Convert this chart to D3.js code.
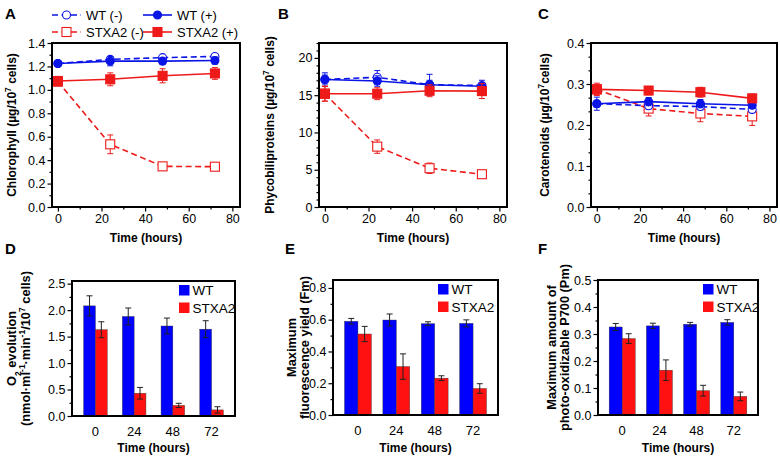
<!DOCTYPE html>
<html>
<head>
<meta charset="utf-8">
<script src="https://cdn.jsdelivr.net/npm/d3@7"></script>
<style>
  body { margin: 0; background: #fff; }
  svg { display: block; font-family: "Liberation Sans", Arial, sans-serif; }
</style>
</head>
<body>
<svg id="chart" width="780" height="461"></svg>
<script>
// ---------------- DATA ----------------
const timeHours = [0, 24, 48, 72];
const xTicksLine = [0, 20, 40, 60, 80];
const seriesNames = ["WT (-)", "WT (+)", "STXA2 (-)", "STXA2 (+)"];

// Panel A: Chlorophyll (µg/10^7 cells)
const chl_WT_minus = [1.225, 1.26, 1.275, 1.285];
const chl_WT_minus_err = [0.015, 0.02, 0.015, 0.015];
const chl_WT_plus = [1.225, 1.245, 1.245, 1.25];
const chl_WT_plus_err = [0.02, 0.04, 0.03, 0.03];
const chl_STXA2_minus = [1.07, 0.535, 0.347, 0.344];
const chl_STXA2_minus_err = [0.03, 0.08, 0.03, 0.03];
const chl_STXA2_plus = [1.075, 1.09, 1.12, 1.14];
const chl_STXA2_plus_err = [0.04, 0.055, 0.06, 0.05];

// Panel B: Phycobiliproteins (µg/10^7 cells)
const pbp_WT_minus = [17.1, 17.4, 16.4, 16.3];
const pbp_WT_minus_err = [0.9, 0.9, 1.4, 0.7];
const pbp_WT_plus = [17.1, 16.9, 16.4, 16.2];
const pbp_WT_plus_err = [0.6, 0.7, 0.6, 0.5];
const pbp_STXA2_minus = [15.2, 8.1, 5.2, 4.4];
const pbp_STXA2_minus_err = [1.0, 0.9, 0.7, 0.5];
const pbp_STXA2_plus = [15.2, 15.2, 15.6, 15.55];
const pbp_STXA2_plus_err = [1.0, 0.8, 0.8, 1.0];

// Panel C: Carotenoids (µg/10^7 cells)
const car_WT_minus = [0.252, 0.247, 0.245, 0.238];
const car_WT_minus_err = [0.008, 0.008, 0.008, 0.008];
const car_WT_plus = [0.252, 0.257, 0.252, 0.248];
const car_WT_plus_err = [0.016, 0.01, 0.01, 0.006];
const car_STXA2_minus = [0.287, 0.24, 0.228, 0.221];
const car_STXA2_minus_err = [0.012, 0.018, 0.02, 0.022];
const car_STXA2_plus = [0.287, 0.284, 0.28, 0.265];
const car_STXA2_plus_err = [0.015, 0.01, 0.012, 0.01];

// Bar panels
const barCategories = ["0", "24", "48", "72"];
const barSeries = ["WT", "STXA2"];
// Panel D: O2 evolution
const o2_WT = [2.08, 1.88, 1.70, 1.64];
const o2_WT_err = [0.19, 0.16, 0.15, 0.16];
const o2_STXA2 = [1.63, 0.43, 0.20, 0.115];
const o2_STXA2_err = [0.15, 0.11, 0.04, 0.06];
// Panel E: Maximum fluorescence yield (Fm)
const fm_WT = [0.59, 0.598, 0.575, 0.577];
const fm_WT_err = [0.018, 0.038, 0.012, 0.022];
const fm_STXA2 = [0.51, 0.305, 0.232, 0.167];
const fm_STXA2_err = [0.048, 0.08, 0.015, 0.03];
// Panel F: Maximum amount of photo-oxidizable P700 (Pm)
const pm_WT = [0.326, 0.33, 0.336, 0.343];
const pm_WT_err = [0.013, 0.01, 0.007, 0.01];
const pm_STXA2 = [0.283, 0.166, 0.09, 0.069];
const pm_STXA2_err = [0.018, 0.038, 0.02, 0.016];

// ---------------- STYLE ----------------
const BLUE = "#0a14e6";
const RED = "#ee1a1a";
const BAR_BLUE = "#0000ff";
const BAR_RED = "#ff1111";
const FONT = '"Liberation Sans", Arial, sans-serif';

const svg = d3.select("#chart");

function styleAxis(g) {
  g.selectAll(".domain").remove();
  g.selectAll("text").attr("font-size", 12.5).attr("font-family", FONT).attr("fill", "#000");
  g.selectAll("line").attr("stroke", "#000").attr("stroke-width", 1.2);
}

function frame(box) {
  svg.append("rect")
    .attr("x", box.x0).attr("y", box.y0)
    .attr("width", box.x1 - box.x0).attr("height", box.y1 - box.y0)
    .attr("fill", "none").attr("stroke", "#000").attr("stroke-width", 2);
}

function panelLetter(letter, x, y) {
  svg.append("text").attr("x", x).attr("y", y).text(letter)
    .attr("font-size", 15).attr("font-weight", "bold").attr("font-family", FONT);
}

function yAxis(box, y, ticks, minor, fmt) {
  const gMinor = svg.append("g").attr("transform", `translate(${box.x0},0)`)
    .call(d3.axisLeft(y).tickValues(minor).tickSize(2.5).tickFormat(""));
  styleAxis(gMinor);
  const g = svg.append("g").attr("transform", `translate(${box.x0},0)`)
    .call(d3.axisLeft(y).tickValues(ticks).tickSize(4.5).tickPadding(2).tickFormat(fmt));
  styleAxis(g);
}

function rotLabel(x, cy, parts, size) {
  const t = svg.append("text")
    .attr("transform", `translate(${x},${cy}) rotate(-90)`)
    .attr("text-anchor", "middle")
    .attr("font-size", size || 12).attr("font-weight", "bold").attr("font-family", FONT);
  parts.forEach(p => {
    const ts = t.append("tspan").text(p.t);
    if (p.sup) ts.attr("font-size", 8.5).attr("baseline-shift", "super");
    if (p.sub) ts.attr("font-size", 8.5).attr("baseline-shift", "sub");
  });
  return t;
}

function xTitle(box, y) {
  svg.append("text").attr("x", (box.x0 + box.x1) / 2).attr("y", y)
    .attr("text-anchor", "middle").attr("font-size", 12).attr("font-weight", "bold")
    .attr("font-family", FONT).text("Time (hours)");
}

// ------------ LINE PANELS ------------
function linePanel(cfg) {
  const box = cfg.box;
  const x = d3.scaleLinear().domain([-2.7, 83.5]).range([box.x0, box.x1]);
  const y = d3.scaleLinear().domain(cfg.yDomain).range([box.y1, box.y0]);

  const gxm = svg.append("g").attr("transform", `translate(0,${box.y1})`)
    .call(d3.axisBottom(x).tickValues([10, 30, 50, 70]).tickSize(2.5).tickFormat(""));
  styleAxis(gxm);
  const gx = svg.append("g").attr("transform", `translate(0,${box.y1})`)
    .call(d3.axisBottom(x).tickValues(xTicksLine).tickSize(4.5).tickPadding(3).tickFormat(d3.format("d")));
  styleAxis(gx);
  yAxis(box, y, cfg.yTicks, cfg.yMinor, cfg.fmt);

  const series = [
    { v: cfg.data[0], e: cfg.err[0], color: BLUE, dash: "6,3.5", shape: "circle", open: true },
    { v: cfg.data[1], e: cfg.err[1], color: BLUE, dash: null, shape: "circle", open: false },
    { v: cfg.data[2], e: cfg.err[2], color: RED, dash: "6,3.5", shape: "square", open: true },
    { v: cfg.data[3], e: cfg.err[3], color: RED, dash: null, shape: "square", open: false },
  ];
  const order = cfg.order || [0, 1, 2, 3];
  order.forEach(i => {
    const s = series[i];
    const pts = timeHours.map((t, k) => ({ t, v: s.v[k], e: s.e[k] }));
    const g = svg.append("g");
    pts.forEach(p => {
      const cx = x(p.t);
      g.append("line").attr("x1", cx).attr("x2", cx).attr("y1", y(p.v - p.e)).attr("y2", y(p.v + p.e))
        .attr("stroke", s.color).attr("stroke-width", 1);
      [p.v - p.e, p.v + p.e].forEach(val => {
        g.append("line").attr("x1", cx - 3).attr("x2", cx + 3).attr("y1", y(val)).attr("y2", y(val))
          .attr("stroke", s.color).attr("stroke-width", 1);
      });
    });
    g.append("path").datum(pts)
      .attr("d", d3.line().x(p => x(p.t)).y(p => y(p.v)))
      .attr("fill", "none").attr("stroke", s.color).attr("stroke-width", 1.6)
      .attr("stroke-dasharray", s.dash);
    pts.forEach(p => drawMarker(g, s, x(p.t), y(p.v)));
  });

  rotLabel(cfg.yLabelX, (box.y0 + box.y1) / 2, cfg.yLabel, 12);
  xTitle(box, 242);
  frame(box);
}

function drawMarker(g, s, cx, cy) {
  if (s.shape === "circle") {
    g.append("circle").attr("cx", cx).attr("cy", cy).attr("r", 4)
      .attr("fill", s.open ? "#fff" : s.color).attr("stroke", s.color).attr("stroke-width", 1.1);
  } else {
    g.append("rect").attr("x", cx - 4.5).attr("y", cy - 4.5).attr("width", 9).attr("height", 9)
      .attr("fill", s.open ? "#fff" : s.color).attr("stroke", s.color).attr("stroke-width", 1.1);
  }
}

function lineLegend() {
  const items = [
    { name: seriesNames[0], color: BLUE, dash: "6,3.5", shape: "circle", open: true, x: 52, y: 15 },
    { name: seriesNames[1], color: BLUE, dash: null, shape: "circle", open: false, x: 143, y: 15 },
    { name: seriesNames[2], color: RED, dash: "6,3.5", shape: "square", open: true, x: 52, y: 32 },
    { name: seriesNames[3], color: RED, dash: null, shape: "square", open: false, x: 143, y: 32 },
  ];
  items.forEach(it => {
    const g = svg.append("g");
    g.append("line").attr("x1", it.x).attr("x2", it.x + 29).attr("y1", it.y).attr("y2", it.y)
      .attr("stroke", it.color).attr("stroke-width", 1.6).attr("stroke-dasharray", it.dash);
    drawMarker(g, it, it.x + 14.5, it.y);
    g.append("text").attr("x", it.x + 34).attr("y", it.y + 4.5).text(it.name)
      .attr("font-size", 13).attr("font-family", FONT);
  });
}

// ------------ BAR PANELS ------------
function barPanel(cfg) {
  const box = cfg.box;
  const x0 = d3.scaleBand().domain(barCategories).range([box.x0, box.x1])
    .paddingInner(cfg.padIn).paddingOuter(cfg.padOut);
  const x1 = d3.scaleBand().domain(barSeries).range([0, x0.bandwidth()]);
  const y = d3.scaleLinear().domain(cfg.yDomain).range([box.y1, box.y0]);

  yAxis(box, y, cfg.yTicks, cfg.yMinor, cfg.fmt);
  const gx = svg.append("g").attr("transform", `translate(0,${box.y1})`)
    .call(d3.axisBottom(x0).tickSize(0).tickPadding(11));
  styleAxis(gx);
  gx.selectAll("text").attr("font-size", 13);

  const colors = [BAR_BLUE, BAR_RED];
  barSeries.forEach((sname, si) => {
    const vals = cfg.data[si];
    barCategories.forEach((c, k) => {
      const bx = x0(c) + x1(sname);
      svg.append("rect").attr("x", bx).attr("y", y(vals[k]))
        .attr("width", x1.bandwidth()).attr("height", y(0) - y(vals[k]))
        .attr("fill", colors[si]).attr("stroke", "#333").attr("stroke-width", 0.4);
    });
  });
  barSeries.forEach((sname, si) => {
    const vals = cfg.data[si], errs = cfg.err[si];
    barCategories.forEach((c, k) => {
      const cx = x0(c) + x1(sname) + x1.bandwidth() / 2;
      const lo = y(vals[k] - errs[k]), hi = y(vals[k] + errs[k]);
      svg.append("line").attr("x1", cx).attr("x2", cx).attr("y1", lo).attr("y2", hi)
        .attr("stroke", "#222").attr("stroke-width", 1);
      [lo, hi].forEach(yy => svg.append("line").attr("x1", cx - 3).attr("x2", cx + 3)
        .attr("y1", yy).attr("y2", yy).attr("stroke", "#222").attr("stroke-width", 1));
    });
  });

  barSeries.forEach((sname, si) => {
    const ly = box.y0 + 4 + si * 17.5;
    svg.append("rect").attr("x", cfg.legX).attr("y", ly).attr("width", 10.5).attr("height", 10.5)
      .attr("fill", colors[si]);
    svg.append("text").attr("x", cfg.legX + 13.5).attr("y", ly + 10).text(sname)
      .attr("font-size", 13.5).attr("font-family", FONT);
  });

  cfg.yLabels.forEach(l => rotLabel(l.x, (box.y0 + box.y1) / 2, l.parts, 12.8));
  xTitle(box, 452);
  frame(box);
}

// ------------ DRAW ------------
panelLetter("A", 5, 19);
panelLetter("B", 278, 19);
panelLetter("C", 538, 19);
panelLetter("D", 5, 254);
panelLetter("E", 285, 254);
panelLetter("F", 538, 254);

lineLegend();

linePanel({
  box: { x0: 52, x1: 240, y0: 43, y1: 207 },
  yDomain: [0, 1.4], yTicks: d3.range(0, 1.41, 0.2), yMinor: d3.range(0.1, 1.4, 0.2),
  fmt: d3.format(".1f"),
  data: [chl_WT_minus, chl_WT_plus, chl_STXA2_minus, chl_STXA2_plus],
  err: [chl_WT_minus_err, chl_WT_plus_err, chl_STXA2_minus_err, chl_STXA2_plus_err],
  yLabelX: 16,
  yLabel: [{ t: "Chlorophyll (µg/10" }, { t: "7", sup: true }, { t: " cells)" }],
});

linePanel({
  box: { x0: 319, x1: 507, y0: 43, y1: 207 },
  yDomain: [0, 22], yTicks: [0, 5, 10, 15, 20], yMinor: d3.range(0, 23, 1).filter(v => v % 5 !== 0),
  fmt: d3.format("d"),
  data: [pbp_WT_minus, pbp_WT_plus, pbp_STXA2_minus, pbp_STXA2_plus],
  err: [pbp_WT_minus_err, pbp_WT_plus_err, pbp_STXA2_minus_err, pbp_STXA2_plus_err],
  yLabelX: 274,
  yLabel: [{ t: "Phycobiliproteins (µg/10" }, { t: "7", sup: true }, { t: " cells)" }],
});

linePanel({
  box: { x0: 591, x1: 777, y0: 43, y1: 207 },
  yDomain: [0, 0.4], yTicks: [0, 0.1, 0.2, 0.3, 0.4],
  yMinor: d3.range(0, 12).filter(i => i % 3 !== 0).map(i => i / 30),
  fmt: d3.format(".1f"),
  data: [car_WT_minus, car_WT_plus, car_STXA2_minus, car_STXA2_plus],
  err: [car_WT_minus_err, car_WT_plus_err, car_STXA2_minus_err, car_STXA2_plus_err],
  order: [2, 0, 1, 3],
  yLabelX: 549,
  yLabel: [{ t: "Carotenoids (µg/10" }, { t: "7", sup: true }, { t: "cells)" }],
});

barPanel({
  box: { x0: 72, x1: 235, y0: 281, y1: 416 },
  yDomain: [0, 2.55], yTicks: [0, 0.5, 1.0, 1.5, 2.0, 2.5], yMinor: [0.25, 0.75, 1.25, 1.75, 2.25],
  fmt: d3.format(".1f"), padIn: 0.39, padOut: 0.3,
  data: [o2_WT, o2_STXA2], err: [o2_WT_err, o2_STXA2_err],
  legX: 179,
  yLabels: [
    { x: 16, parts: [{ t: "O" }, { t: "2", sub: true }, { t: " evolution" }] },
    { x: 30, parts: [{ t: "(nmol·ml" }, { t: "-1", sup: true }, { t: "·min" }, { t: "-1", sup: true }, { t: "/10" }, { t: "7", sup: true }, { t: " cells)" }] },
  ],
});

barPanel({
  box: { x0: 333, x1: 498, y0: 280, y1: 415 },
  yDomain: [0, 0.85], yTicks: [0, 0.2, 0.4, 0.6, 0.8], yMinor: [0.1, 0.3, 0.5, 0.7],
  fmt: d3.format(".1f"), padIn: 0.3, padOut: 0.3,
  data: [fm_WT, fm_STXA2], err: [fm_WT_err, fm_STXA2_err],
  legX: 438,
  yLabels: [
    { x: 296, parts: [{ t: "Maximum" }] },
    { x: 308.5, parts: [{ t: "fluorescence yield (Fm)" }] },
  ],
});

barPanel({
  box: { x0: 598, x1: 758, y0: 280, y1: 415 },
  yDomain: [0, 0.5], yTicks: [0, 0.1, 0.2, 0.3, 0.4, 0.5], yMinor: [0.05, 0.15, 0.25, 0.35, 0.45],
  fmt: d3.format(".1f"), padIn: 0.3, padOut: 0.3,
  data: [pm_WT, pm_STXA2], err: [pm_WT_err, pm_STXA2_err],
  legX: 703,
  yLabels: [
    { x: 556, parts: [{ t: "Maximum amount of" }] },
    { x: 568.5, parts: [{ t: "photo-oxidizable P700 (Pm)" }] },
  ],
});
</script>
</body>
</html>
